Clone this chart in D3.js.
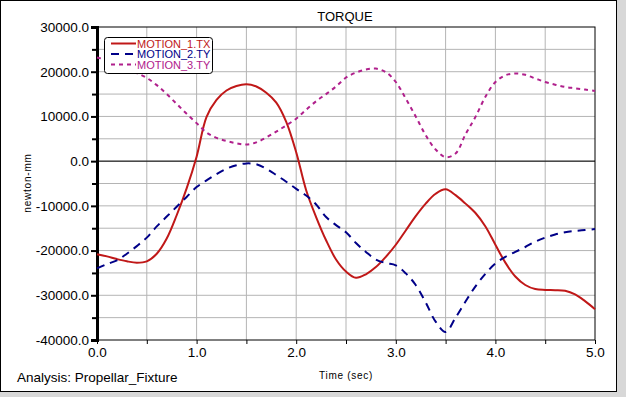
<!DOCTYPE html>
<html>
<head>
<meta charset="utf-8">
<script src="https://cdn.jsdelivr.net/npm/d3@7"></script>
<style>
  body { margin: 0; background: #d8d8d8; }
  svg { display: block; font-family: "Liberation Sans", Arial, sans-serif; }
</style>
</head>
<body>
<svg id="chart" width="626" height="397"></svg>
<script>
// time samples (sec)
const time = d3.range(0, 51).map(i => i / 10)

// MOTION_1.TX (newton-mm)
const motion1 = [-20800, -21300, -21900, -22400, -22700, -22400, -20700, -17300, -12100, -6100,
  1000, 9900, 13700, 15800, 16800, 17200, 16700, 15300, 13100, 8800,
  2000, -6500, -12500, -17700, -22000, -24700, -26100, -25300, -23700, -21400,
  -18700, -15500, -12300, -9500, -7300, -6300, -7600, -9500, -11600, -14600,
  -18700, -22700, -25800, -27700, -28600, -28800, -28850, -29000, -29800, -31300, -33100]

// MOTION_2.TY
const motion2 = [-24000, -23000, -22200, -20700, -19000, -17100, -14600, -12400, -10200, -8000,
  -5800, -4300, -2900, -1700, -900, -500, -700, -1700, -3100, -4600,
  -6200, -7700, -9700, -12500, -14300, -15900, -18300, -20300, -22000, -22800,
  -23300, -25100, -27700, -31600, -35900, -38200, -35000, -31400, -28000, -25200,
  -22900, -21400, -20300, -19200, -18000, -17100, -16400, -15900, -15600, -15400, -15200]

// MOTION_3.TY
const motion3 = [23200, 22600, 21800, 20800, 19700, 18600, 17000, 15000, 12800, 10600,
  8500, 6400, 5200, 4500, 4000, 3700, 4200, 5300, 6600, 8000,
  9500, 11500, 13400, 15000, 16700, 18700, 19800, 20500, 20700, 19900,
  17700, 14000, 10000, 5800, 2600, 900, 1700, 6000, 9900, 14400,
  17700, 19200, 19600, 19300, 18500, 17700, 17100, 16600, 16300, 16000, 15700]

const seriesNames = ['MOTION_1.TX', 'MOTION_2.TY', 'MOTION_3.TY']
const seriesColors = ['#c01818', '#000088', '#b0208c']
const seriesDash = [null, '8,6', '4,4']
const seriesValues = [motion1, motion2, motion3]

const xTicks = [0, 1, 2, 3, 4, 5]
const yTicks = [30000, 20000, 10000, 0, -10000, -20000, -30000, -40000]

const svg = d3.select('#chart')
const pL = 97, pR = 595, pT = 27, pB = 340
const fmt = d => d.toFixed(1)

// window frame
svg.append('rect').attr('x', 0.5).attr('y', 0.5).attr('width', 616).attr('height', 391)
  .attr('fill', 'white').attr('stroke', 'black')

const x = d3.scaleLinear().domain([0, 5]).range([pL, pR])
const y = d3.scaleLinear().domain([-40000, 30000]).range([pB, pT])

// grid
svg.append('g').selectAll('line').data(d3.range(0.5, 5, 0.5)).join('line')
  .attr('x1', d => x(d)).attr('x2', d => x(d)).attr('y1', pT).attr('y2', pB)
  .attr('stroke', '#b4b4b4')
svg.append('g').selectAll('line').data(d3.range(-35000, 30000, 5000)).join('line')
  .attr('x1', pL).attr('x2', pR).attr('y1', d => y(d)).attr('y2', d => y(d))
  .attr('stroke', '#b4b4b4')

// plot border and zero line
svg.append('rect').attr('x', pL).attr('y', pT).attr('width', pR - pL).attr('height', pB - pT)
  .attr('fill', 'none').attr('stroke', 'black')
svg.append('line').attr('x1', pL).attr('x2', pR).attr('y1', y(0)).attr('y2', y(0))
  .attr('stroke', 'black')

// y axis
const yAxis = svg.append('g').attr('transform', `translate(${pL},0)`)
  .call(d3.axisLeft(y).tickValues(yTicks).tickFormat(fmt).tickSize(6).tickPadding(2))
yAxis.select('.domain').attr('stroke-width', 3)
yAxis.selectAll('text').attr('font-size', 13.5).attr('fill', 'black')
yAxis.selectAll('.tick line').attr('stroke-width', 2)
svg.append('g').attr('transform', `translate(${pL},0)`)
  .call(d3.axisLeft(y).tickValues(d3.range(-35000, 30000, 10000)).tickFormat('').tickSize(5))
  .call(g => g.select('.domain').remove())
  .selectAll('.tick line').attr('stroke-width', 2)

// x axis
const xAxis = svg.append('g').attr('transform', `translate(0,${pB})`)
  .call(d3.axisBottom(x).tickValues(xTicks).tickFormat(fmt).tickSize(4).tickPadding(3))
xAxis.select('.domain').remove()
xAxis.selectAll('text').attr('font-size', 13.5).attr('fill', 'black')
svg.append('g').attr('transform', `translate(0,${pB})`)
  .call(d3.axisBottom(x).tickValues([0.5, 1.5, 2.5, 3.5, 4.5]).tickFormat('').tickSize(4))
  .select('.domain').remove()

// curves
const line = d3.line().x((d, i) => x(time[i])).y(d => y(d)).curve(d3.curveCatmullRom)
const plot = svg.append('g')
seriesValues.forEach((vals, k) => {
  plot.append('path').datum(vals).attr('d', line)
    .attr('fill', 'none').attr('stroke', seriesColors[k]).attr('stroke-width', 2)
    .attr('stroke-dasharray', seriesDash[k])
})

// legend
const lg = svg.append('g')
lg.append('rect').attr('x', 104.5).attr('y', 37.5).attr('width', 108).attr('height', 36).attr('rx', 3)
  .attr('fill', 'white').attr('stroke', 'black')
seriesNames.forEach((name, k) => {
  const yy = 43.5 + k * 10.5
  lg.append('line').attr('x1', 111).attr('x2', 136).attr('y1', yy).attr('y2', yy)
    .attr('stroke', seriesColors[k]).attr('stroke-width', 2).attr('stroke-dasharray', seriesDash[k])
  lg.append('text').attr('x', 137).attr('y', yy + 4).attr('font-size', 11)
    .attr('fill', seriesColors[k]).text(name)
})

// titles
svg.append('text').attr('x', 345).attr('y', 21).attr('text-anchor', 'middle').attr('font-size', 13).text('TORQUE')
svg.append('text').attr('transform', 'translate(31,183) rotate(-90)').attr('text-anchor', 'middle')
  .attr('font-size', 10).attr('letter-spacing', 0.8).text('newton-mm')
svg.append('text').attr('x', 346).attr('y', 379).attr('text-anchor', 'middle').attr('font-size', 10)
  .attr('letter-spacing', 0.7).text('Time (sec)')
svg.append('text').attr('x', 17).attr('y', 382).attr('font-size', 13.5).text('Analysis:  Propellar_Fixture')
</script>
</body>
</html>
